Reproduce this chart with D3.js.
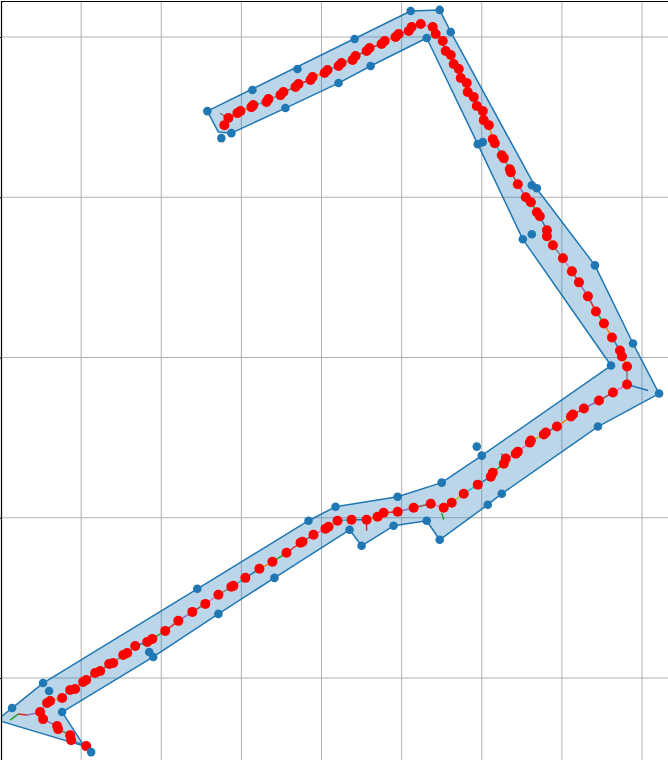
<!DOCTYPE html>
<html>
<head>
<meta charset="utf-8">
<script src="https://cdn.jsdelivr.net/npm/d3@7"></script>
<style>
  html, body { margin: 0; padding: 0; background: #ffffff; }
  svg { display: block; }
</style>
</head>
<body>
<div id="chart"></div>
<script>
// ---- data (metres) ----
const xTicks = [0, 10, 20, 30, 40, 50, 60, 70, 80];
const yTicks = [0, 20, 40, 60, 80];

// trajectory points (red dots), in travel order
const trackX = [10.63, 8.75, 8.63, 7.13, 7.0, 5.25, 4.88, 5.75, 6.13, 7.63, 8.63, 9.25, 10.25, 10.63, 11.75, 12.38,
  13.5, 14.0, 15.25, 15.75, 16.75, 18.25, 18.88, 20.5, 22.13, 23.88, 25.5, 27.13, 28.75, 29.0, 30.5, 32.25, 33.88,
  35.63, 37.38, 37.63, 39.0, 40.5, 40.88, 42.0, 43.75, 45.63, 47.0, 47.75, 49.5, 51.5, 53.63, 55.25, 56.25, 57.75,
  59.5, 61.13, 61.38, 62.75, 63.0, 64.25, 64.5, 66.0, 66.13, 67.75, 68.0, 69.38, 71.13, 71.38, 72.75, 74.63, 76.38,
  78.13, 78.13, 77.5, 77.25, 76.25, 75.25, 74.25, 73.25, 72.13, 71.25, 70.13, 68.88, 68.13, 68.13, 67.25, 66.88,
  66.13, 65.5, 64.5, 63.63, 63.5, 62.75, 62.5, 61.63, 61.38, 60.88, 60.25, 60.13, 59.38, 59.0, 58.25, 58.13, 57.38,
  57.13, 56.5, 56.13, 55.5, 55.13, 54.25, 53.88, 52.38, 51.25, 50.88, 49.63, 49.25, 47.88, 47.5, 46.0, 45.63, 44.25,
  43.88, 42.5, 42.13, 40.75, 40.38, 38.88, 38.63, 37.13, 36.75, 35.25, 34.88, 33.38, 33.13, 31.5, 31.25, 29.88,
  29.5, 28.38, 27.88];
const trackY = [-8.5, -7.75, -7.13, -6.38, -6.0, -5.13, -4.25, -3.13, -2.88, -2.5, -1.5, -1.38, -0.5, -0.25, 0.63, 0.88,
  1.75, 1.88, 2.88, 3.13, 4.0, 4.5, 4.88, 5.88, 7.13, 8.25, 9.25, 10.38, 11.38, 11.5, 12.5, 13.63, 14.5,
  15.63, 16.88, 17.0, 17.88, 18.63, 18.88, 19.63, 19.75, 19.75, 20.13, 20.63, 20.75, 21.25, 21.75, 21.25, 21.88, 23.0,
  24.13, 25.13, 25.63, 26.75, 27.38, 28.0, 28.25, 29.38, 29.63, 30.38, 30.63, 31.38, 32.63, 32.88, 33.63, 34.63, 35.63,
  36.63, 38.88, 40.13, 40.88, 42.5, 44.25, 45.75, 47.63, 49.38, 50.75, 52.38, 54.0, 55.13, 55.88, 57.63, 58.13,
  59.38, 60.0, 61.63, 63.13, 63.5, 64.88, 65.25, 66.75, 67.25, 69.0, 69.63, 70.75, 71.38, 72.5, 73.13, 74.25, 74.88,
  76.0, 76.63, 77.75, 78.25, 79.5, 80.38, 81.25, 81.63, 81.25, 80.75, 80.38, 80.0, 79.5, 79.13, 78.63, 78.25, 77.63,
  77.13, 76.75, 76.38, 75.88, 75.5, 75.0, 74.63, 74.13, 73.75, 73.13, 72.75, 72.25, 71.88, 71.5, 71.25, 70.75,
  70.5, 69.88, 69.0];

// short lead-in of the trace before the first dotted branch point
const tailX = [1.13, 2.13, 3.25, 4.5, 4.88];
const tailY = [-5.25, -4.5, -4.63, -4.38, -4.25];

// small stray trace segments: [x1, y1, x2, y2, colour index]
const spurX1 = [45.63, 55.0, 78.13, 62.38, 27.38];
const spurY1 = [19.75, 20.63, 36.63, 28.0, 70.5];
const spurX2 = [45.63, 55.25, 80.75, 63.0, 27.88];
const spurY2 = [18.38, 19.75, 35.88, 27.38, 70.13];
const spurC  = [3, 2, 0, 7, 7];

// corridor polygon outline
const hullX = [-0.5, 1.38, 5.25, 24.5, 38.38, 41.75, 49.5, 55.0, 60.0, 76.13, 65.13, 59.5, 53.13,
  46.13, 42.13, 35.5, 28.75, 27.13, 25.75, 51.13, 54.75, 56.13, 66.63, 74.13, 78.88, 82.13, 74.5, 62.5, 60.75,
  54.75, 53.13, 49.0, 45.0, 43.5, 34.13, 27.13, 19.0, 7.63, 10.38];
const hullY = [-5.25, -3.75, -0.63, 11.13, 19.63, 21.38, 22.63, 24.38, 27.75, 39.0, 54.75, 66.63, 79.88,
  76.38, 74.25, 71.13, 68.0, 68.13, 70.75, 83.25, 83.38, 80.63, 61.38, 51.5, 41.75, 35.5, 31.38, 23.0, 21.63,
  17.25, 19.63, 19.0, 16.5, 18.5, 12.5, 8.0, 2.63, -4.25, -8.5];

// offset points (blue dots)
const cornerX = [25.75, 27.5, 28.75, 31.38, 35.5, 37.0, 42.13, 44.13, 46.13, 51.13, 53.13, 54.75, 56.13, 59.5, 60.13,
  66.25, 66.88, 65.13, 66.25, 74.13, 76.13, 78.88, 82.13, 74.5, 62.5, 60.75, 59.38, 60.0, 55.0, 54.75, 53.13, 49.5,
  49.0, 45.0, 43.5, 41.75, 38.38, 34.13, 27.13, 24.5, 19.0, 18.5, 7.63, 5.25, 6.0, 1.38, 11.25];
const cornerY = [70.75, 67.38, 68.0, 73.38, 71.13, 76.0, 74.25, 79.75, 76.38, 83.25, 79.88, 83.38, 80.63, 66.63, 66.88,
  61.5, 61.13, 54.75, 55.38, 51.5, 39.0, 41.75, 35.5, 31.38, 23.0, 21.63, 28.88, 27.75, 24.38, 17.25, 19.63, 22.63,
  19.0, 16.5, 18.5, 21.38, 19.63, 12.5, 8.0, 11.13, 2.63, 3.25, -4.25, -0.63, -1.63, -3.75, -9.25];

const tab10 = ["#1f77b4", "#ff7f0e", "#2ca02c", "#d62728", "#9467bd",
               "#8c564b", "#e377c2", "#7f7f7f", "#bcbd22", "#17becf"];

// ---- layout ----
const W = 668, H = 760;
const plotLeft = 1, plotTop = 1;

const x = d3.scaleLinear().domain([0, 80]).range([1, 642]);
const y = d3.scaleLinear().domain([0, 80]).range([678, 37]);

const svg = d3.select("#chart").append("svg")
  .attr("width", W).attr("height", H);

svg.append("defs").append("clipPath").attr("id", "plotclip")
  .append("rect").attr("x", plotLeft).attr("y", plotTop)
  .attr("width", W - plotLeft).attr("height", H - plotTop);

// grid
const grid = svg.append("g").attr("clip-path", "url(#plotclip)");
grid.selectAll("line.vx").data(xTicks).join("line")
  .attr("x1", d => x(d)).attr("x2", d => x(d))
  .attr("y1", plotTop).attr("y2", H)
  .attr("stroke", "#b0b0b0").attr("stroke-width", 1);
grid.selectAll("line.hy").data(yTicks).join("line")
  .attr("x1", plotLeft).attr("x2", W)
  .attr("y1", d => y(d)).attr("y2", d => y(d))
  .attr("stroke", "#b0b0b0").attr("stroke-width", 1);

const g = svg.append("g").attr("clip-path", "url(#plotclip)");

// polygon
const hull = hullX.map((v, i) => [x(v), y(hullY[i])]);
g.append("path")
  .attr("d", d3.line()(hull) + "Z")
  .attr("fill", "#1f77b4").attr("fill-opacity", 0.3)
  .attr("stroke", "#1f77b4").attr("stroke-width", 1.5)
  .attr("stroke-linejoin", "round");

// trace segments, each a different colour
const segs = [];
for (let i = 0; i < tailX.length - 1; i++) {
  segs.push({x1: tailX[i], y1: tailY[i], x2: tailX[i + 1], y2: tailY[i + 1], c: tab10[(i + 2) % 10]});
}
for (let i = 0; i < trackX.length - 1; i++) {
  segs.push({x1: trackX[i], y1: trackY[i], x2: trackX[i + 1], y2: trackY[i + 1], c: tab10[i % 10]});
}
for (let i = 0; i < spurX1.length; i++) {
  segs.push({x1: spurX1[i], y1: spurY1[i], x2: spurX2[i], y2: spurY2[i], c: tab10[spurC[i]]});
}
g.selectAll("line.seg").data(segs).join("line")
  .attr("x1", d => x(d.x1)).attr("y1", d => y(d.y1))
  .attr("x2", d => x(d.x2)).attr("y2", d => y(d.y2))
  .attr("stroke", d => d.c).attr("stroke-width", 1.5);

// red trajectory dots
g.selectAll("circle.track").data(trackX).join("circle")
  .attr("cx", d => x(d)).attr("cy", (d, i) => y(trackY[i]))
  .attr("r", 5).attr("fill", "#ff0000");

// blue offset dots
g.selectAll("circle.corner").data(cornerX).join("circle")
  .attr("cx", d => x(d)).attr("cy", (d, i) => y(cornerY[i]))
  .attr("r", 4.3).attr("fill", "#1f77b4");

// axes: left spine with ticks (labels fall outside the visible crop)
svg.append("g")
  .attr("transform", `translate(${plotLeft + 0.5},0)`)
  .call(d3.axisLeft(y).tickValues(yTicks).tickSize(3.5).tickFormat(""))
  .call(a => a.select(".domain").remove())
  .selectAll("line").attr("stroke", "#000");
svg.append("line")
  .attr("x1", plotLeft + 0.5).attr("x2", plotLeft + 0.5)
  .attr("y1", plotTop).attr("y2", H)
  .attr("stroke", "#000").attr("stroke-width", 1.2);
svg.append("line")
  .attr("x1", plotLeft).attr("x2", W)
  .attr("y1", plotTop + 0.5).attr("y2", plotTop + 0.5)
  .attr("stroke", "#000").attr("stroke-width", 1.2);
</script>
</body>
</html>
